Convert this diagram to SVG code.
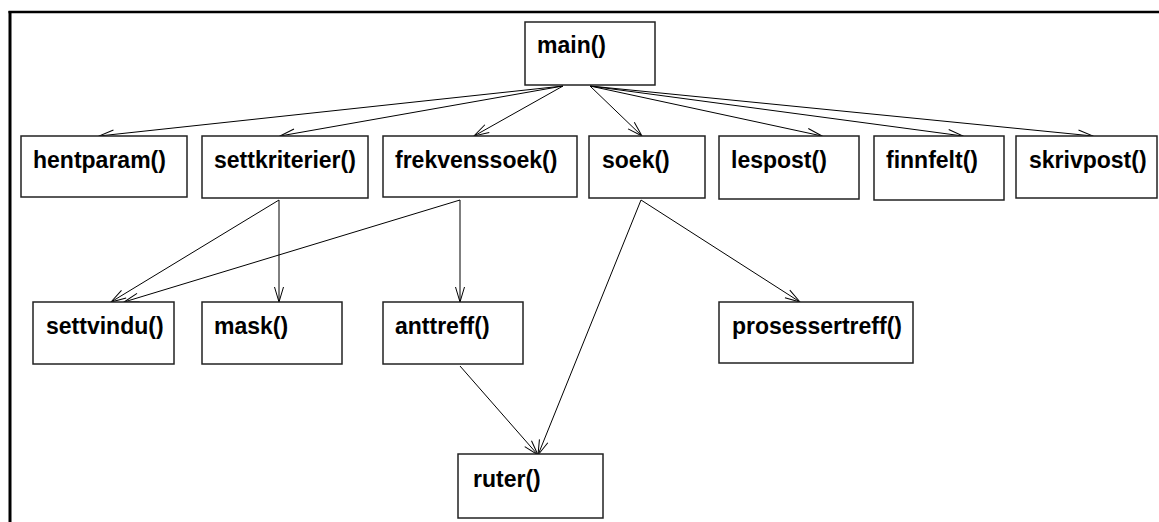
<svg xmlns="http://www.w3.org/2000/svg" width="1159" height="522" viewBox="0 0 1159 522">
<style>
.box{fill:#fff;stroke:#222;stroke-width:1.5}
.lbl{font-family:"Liberation Sans",Arial,Helvetica,sans-serif;font-weight:bold;font-size:23px;fill:#000}
.conn{fill:none;stroke:#000;stroke-width:1}
</style>
<defs>
<marker id="arr" markerUnits="userSpaceOnUse" viewBox="-16 -6 18 12" refX="0" refY="0" markerWidth="18" markerHeight="12" orient="auto" overflow="visible">
<path d="M-15,-4.5 L0,0 L-15,4.5" fill="none" stroke="#000" stroke-width="1"/>
</marker>
</defs>
<rect width="1159" height="522" fill="#fff"/>
<g id="frame">
<line x1="8.5" y1="12" x2="1159" y2="12" stroke="#000" stroke-width="2.5"/>
<line x1="10" y1="11" x2="10" y2="522" stroke="#000" stroke-width="3"/>
</g>
<g id="connectors">
<line class="conn" x1="563" y1="86" x2="99" y2="136" marker-end="url(#arr)"/>
<line class="conn" x1="563" y1="86" x2="280" y2="136" marker-end="url(#arr)"/>
<line class="conn" x1="563" y1="86" x2="474" y2="136" marker-end="url(#arr)"/>
<line class="conn" x1="590" y1="86" x2="642" y2="136" marker-end="url(#arr)"/>
<line class="conn" x1="590" y1="86" x2="822" y2="136" marker-end="url(#arr)"/>
<line class="conn" x1="590" y1="86" x2="963" y2="136" marker-end="url(#arr)"/>
<line class="conn" x1="590" y1="86" x2="1093" y2="136" marker-end="url(#arr)"/>
<line class="conn" x1="279" y1="200" x2="111" y2="302" marker-end="url(#arr)"/>
<line class="conn" x1="279" y1="200" x2="279" y2="302" marker-end="url(#arr)"/>
<line class="conn" x1="460" y1="200" x2="124" y2="302" marker-end="url(#arr)"/>
<line class="conn" x1="460" y1="200" x2="460" y2="302" marker-end="url(#arr)"/>
<line class="conn" x1="460" y1="366" x2="538" y2="455" marker-end="url(#arr)"/>
<line class="conn" x1="641" y1="200" x2="538" y2="455" marker-end="url(#arr)"/>
<line class="conn" x1="641" y1="200" x2="800" y2="302" marker-end="url(#arr)"/>
</g>
<g id="main"><rect class="box" x="525" y="22" width="130" height="63"/><text class="lbl" x="537" y="53">main()</text></g>
<g id="hentparam"><rect class="box" x="21" y="136" width="166" height="61"/><text class="lbl" x="33" y="168">hentparam()</text></g>
<g id="settkriterier"><rect class="box" x="202" y="136" width="166" height="62"/><text class="lbl" x="214" y="168">settkriterier()</text></g>
<g id="frekvenssoek"><rect class="box" x="383" y="136" width="194" height="61"/><text class="lbl" x="395" y="168">frekvenssoek()</text></g>
<g id="soek"><rect class="box" x="589" y="136" width="116" height="62"/><text class="lbl" x="602" y="168">soek()</text></g>
<g id="lespost"><rect class="box" x="719" y="136" width="140" height="63"/><text class="lbl" x="731" y="168">lespost()</text></g>
<g id="finnfelt"><rect class="box" x="874" y="136" width="130" height="64"/><text class="lbl" x="886" y="168">finnfelt()</text></g>
<g id="skrivpost"><rect class="box" x="1016" y="136" width="141" height="62"/><text class="lbl" x="1029" y="168">skrivpost()</text></g>
<g id="settvindu"><rect class="box" x="33" y="302" width="141" height="62"/><text class="lbl" x="46" y="334">settvindu()</text></g>
<g id="mask"><rect class="box" x="202" y="302" width="140" height="62"/><text class="lbl" x="214" y="334">mask()</text></g>
<g id="anttreff"><rect class="box" x="383" y="302" width="140" height="62"/><text class="lbl" x="395" y="334">anttreff()</text></g>
<g id="prosessertreff"><rect class="box" x="719" y="302" width="194" height="61"/><text class="lbl" x="732" y="334">prosessertreff()</text></g>
<g id="ruter"><rect class="box" x="458" y="454" width="145" height="64"/><text class="lbl" x="473" y="487">ruter()</text></g>
</svg>
